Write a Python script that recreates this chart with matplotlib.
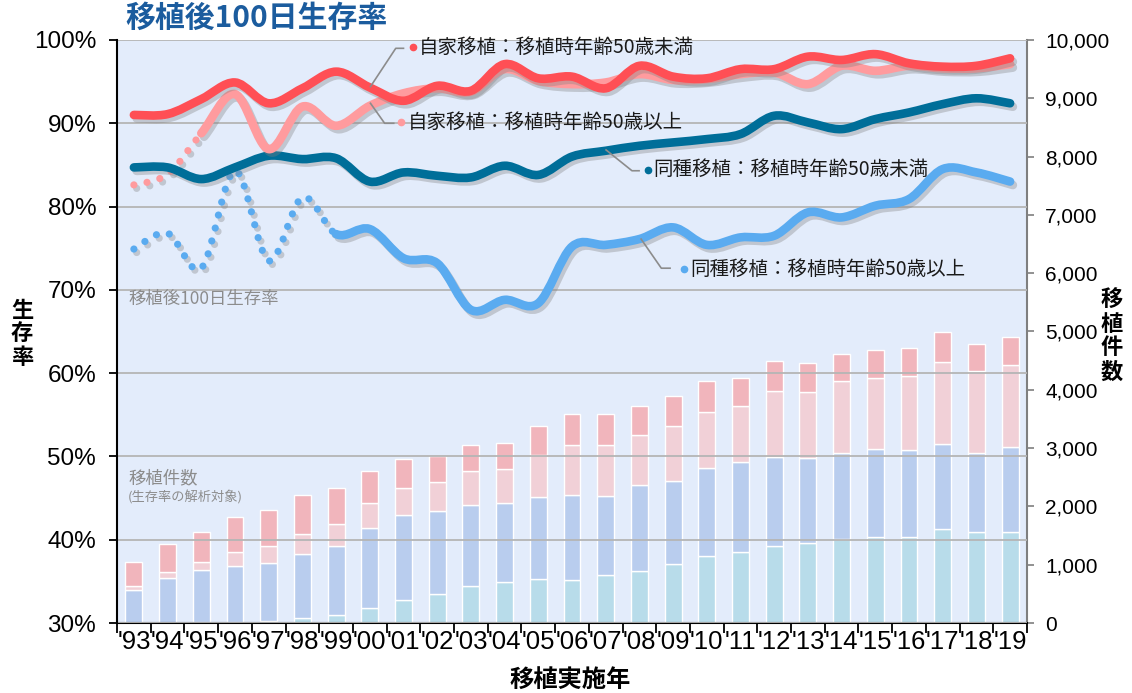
import matplotlib
matplotlib.use("Agg")
import matplotlib.pyplot as plt
import matplotlib.patheffects as pe
from matplotlib.path import Path
from matplotlib.patches import PathPatch

plt.rcParams['font.family'] = ['Liberation Sans', 'Noto Sans CJK JP']
JP = ['Noto Sans CJK JP', 'DejaVu Sans']

years = ["'93", "'94", "'95", "'96", "'97", "'98", "'99", "'00", "'01", "'02",
         "'03", "'04", "'05", "'06", "'07", "'08", "'09", "'10", "'11", "'12",
         "'13", "'14", "'15", "'16", "'17", "'18", "'19"]

# transplant counts (stacked bars, bottom to top)
allo_over50 = [0, 0, 20, 20, 40, 80, 130, 257, 389, 497, 640, 703, 755, 732,
               829, 898, 1018, 1143, 1218, 1315, 1366, 1441, 1475, 1475, 1612, 1561, 1561]
allo_under50 = [570, 772, 883, 952, 989, 1098, 1190, 1367, 1469, 1418, 1384, 1355, 1406, 1469,
                1355, 1469, 1417, 1515, 1543, 1532, 1464, 1475, 1509, 1486, 1458, 1355, 1458]
auto_over50 = [65, 97, 149, 251, 286, 348, 383, 434, 457, 503, 583, 589, 715, 858,
               863, 863, 949, 955, 955, 1138, 1132, 1240, 1218, 1281, 1406, 1400, 1400]
auto_under50 = [411, 492, 503, 595, 617, 664, 611, 543, 492, 441, 440, 434, 497, 531,
                538, 497, 504, 532, 480, 503, 497, 458, 486, 475, 509, 475, 486]

# 100-day survival (%)
auto_under50_surv = [91.0, 91.1, 92.9, 94.9, 92.4, 94.2, 96.2, 94.3, 92.7, 94.5, 93.9, 97.1, 95.4, 95.6,
                     94.2, 96.9, 95.6, 95.4, 96.5, 96.5, 98.0, 97.6, 98.3, 97.2, 96.8, 96.9, 97.8]
auto_over50_surv = [82.6, 83.9, 88.8, 93.5, 86.9, 92.0, 89.7, 92.1, 93.6, 94.2, 93.8, 96.5, 95.1, 94.7,
                    94.9, 95.9, 95.2, 95.3, 95.9, 96.1, 94.7, 96.9, 96.3, 96.9, 96.6, 96.6, 97.1]
allo_under50_surv = [84.7, 84.7, 83.3, 84.7, 86.1, 85.7, 85.8, 83.0, 84.1, 83.7, 83.5, 84.9, 83.8, 86.0,
                     86.7, 87.3, 87.7, 88.1, 88.7, 90.9, 90.1, 89.3, 90.5, 91.3, 92.3, 93.0, 92.4]
allo_over50_surv = [74.9, 76.8, 72.6, 84.3, 73.5, 81.1, 76.7, 77.3, 73.8, 73.2, 67.6, 68.8, 68.4, 75.2,
                    75.4, 76.1, 77.5, 75.4, 76.3, 76.5, 79.3, 78.7, 80.1, 80.9, 84.5, 84.1, 83.0]

x = list(range(len(years)))


def smooth_path(xs, ys, start, stop):
    # Excel-like smoothed line as cubic bezier segments through the data points
    n = len(xs)
    verts = [(xs[start], ys[start])]
    codes = [Path.MOVETO]
    for i in range(start, stop):
        a = max(i - 1, 0)
        b = min(i + 2, n - 1)
        c1 = (xs[i] + (xs[i + 1] - xs[a]) / 6, ys[i] + (ys[i + 1] - ys[a]) / 6)
        c2 = (xs[i + 1] - (xs[b] - xs[i]) / 6, ys[i + 1] - (ys[b] - ys[i]) / 6)
        verts += [c1, c2, (xs[i + 1], ys[i + 1])]
        codes += [Path.CURVE4] * 3
    return Path(verts, codes)


fig = plt.figure(figsize=(11.32, 6.93), dpi=100)
ax = fig.add_axes([0.1034, 0.1010, 0.8038, 0.8413])
ax.set_facecolor('#e3ecfb')
ax2 = ax.twinx()
ax2.patch.set_visible(False)

# bars on the right axis
bottom = [0] * len(x)
for vals, col in [(allo_over50, '#b8dcea'), (allo_under50, '#b9cdee'),
                  (auto_over50, '#f1d0d7'), (auto_under50, '#f1b5bc')]:
    ax.bar(x, vals, width=0.5, bottom=bottom, color=col, edgecolor='white', linewidth=1.0, zorder=2)
    bottom = [b + v for b, v in zip(bottom, vals)]

ax.set_ylim(0, 10000)
ax.set_xlim(-0.5, len(x) - 0.5)
ax.yaxis.tick_right()
ax.set_yticks(range(0, 10001, 1000))
ax.set_yticklabels(['{:,}'.format(v) for v in range(0, 10001, 1000)], fontsize=15)
ax.tick_params(axis='y', length=5, width=1.2, pad=8, color='#7f7f7f')
ax.set_xticks([i - 0.5 for i in range(len(x) + 1)])
ax.set_xticklabels([])
ax.set_xticks(x, minor=True)
ax.set_xticklabels(years, minor=True, fontsize=18.5)
ax.tick_params(axis='x', which='major', length=7, width=1.3)
ax.tick_params(axis='x', which='minor', length=0, pad=5)
for s in ['top', 'left']:
    ax.spines[s].set_visible(False)
ax.spines['bottom'].set_linewidth(1.5)
ax.spines['right'].set_color('#7f7f7f')
ax.spines['right'].set_linewidth(1.5)

# survival lines on the left axis
ax2.yaxis.tick_left()
ax2.set_ylim(30, 100)
ax2.set_yticks(range(30, 101, 10))
ax2.set_yticklabels(['{}%'.format(v) for v in range(30, 101, 10)], fontsize=17.5)
ax2.tick_params(axis='y', length=6, width=1.3, pad=9)
ax2.grid(axis='y', color='#b5b5b5', linewidth=1.3)
ax2.set_axisbelow(True)
for s in ['top', 'right', 'bottom']:
    ax2.spines[s].set_visible(False)
ax2.spines['left'].set_linewidth(1.5)

shadow = [pe.SimpleLineShadow(offset=(2, -2.5), shadow_color='#808080', alpha=0.35), pe.Normal()]

series = [
    (allo_over50_surv, '#5aabf0', 6),
    (allo_under50_surv, '#006e99', 0),
    (auto_over50_surv, '#ff9b9e', 2),
    (auto_under50_surv, '#ff4f55', 0),
]
for vals, col, dotted_to in series:
    if dotted_to > 0:
        p = PathPatch(smooth_path(x, vals, 0, dotted_to), fill=False, edgecolor=col,
                      linewidth=5.2, linestyle=(0, (0.001, 1.85)), capstyle='round', zorder=3)
        p.set_path_effects(shadow)
        ax2.add_patch(p)
    p = PathPatch(smooth_path(x, vals, dotted_to, len(x) - 1), fill=False, edgecolor=col,
                  linewidth=6.2, capstyle='round', joinstyle='round', zorder=4)
    p.set_path_effects(shadow)
    ax2.add_patch(p)

# series labels with leader lines
labels = [
    ('自家移植：移植時年齢50歳未満', '#ff4f55', [7.02, 7.77, 8.00], [94.4, 99.0, 99.0], 8.27, 8.45, 99.1),
    ('自家移植：移植時年齢50歳以上', '#ff9b9e', [7.02, 7.44, 7.71], [92.4, 90.0, 90.0], 7.94, 8.12, 90.1),
    ('同種移植：移植時年齢50歳未満', '#006e99', [14.01, 14.78, 14.99], [86.8, 84.3, 84.3], 15.26, 15.42, 84.4),
    ('同種移植：移植時年齢50歳以上', '#5aabf0', [15.05, 15.65, 15.91], [76.1, 72.6, 72.6], 16.33, 16.52, 72.5),
]
for text, col, lx, ly, dx, tx, ty in labels:
    ax2.plot(lx, ly, color='#8c8c8c', linewidth=1.2, zorder=5)
    ax2.plot([dx], [ty], 'o', color=col, markersize=4.5, zorder=5)
    ax2.text(tx, ty, text, va='center', ha='left', fontsize=14, family=JP, color='#1a1a1a', zorder=6)

ax2.text(-0.17, 68.9, '移植後100日生存率', fontsize=12.5, family=JP, color='#8c8c8c', va='center')
ax2.text(-0.17, 47.4, '移植件数', fontsize=12.5, family=JP, color='#8c8c8c', va='center')
ax2.text(-0.17, 45.1, '(生存率の解析対象)', fontsize=9.5, family=JP, color='#8c8c8c', va='center')

# titles and axis labels
fig.text(125 / 1132, 1 - 18 / 693, '移植後100日生存率', fontsize=21.5, fontweight='bold',
         family=JP, color='#1b5c9e', va='center', ha='left')
fig.text(22 / 1132, 1 - 334 / 693, '生\n存\n率', fontsize=16, fontweight='bold', family=JP,
         va='center', ha='center', linespacing=1.05)
fig.text(1112 / 1132, 1 - 336 / 693, '移\n植\n件\n数', fontsize=16, fontweight='bold', family=JP,
         va='center', ha='center', linespacing=1.05)
fig.text(570 / 1132, 1 - 680 / 693, '移植実施年', fontsize=17.5, fontweight='bold', family=JP,
         va='center', ha='center')

fig.savefig('out.png', dpi=100)
